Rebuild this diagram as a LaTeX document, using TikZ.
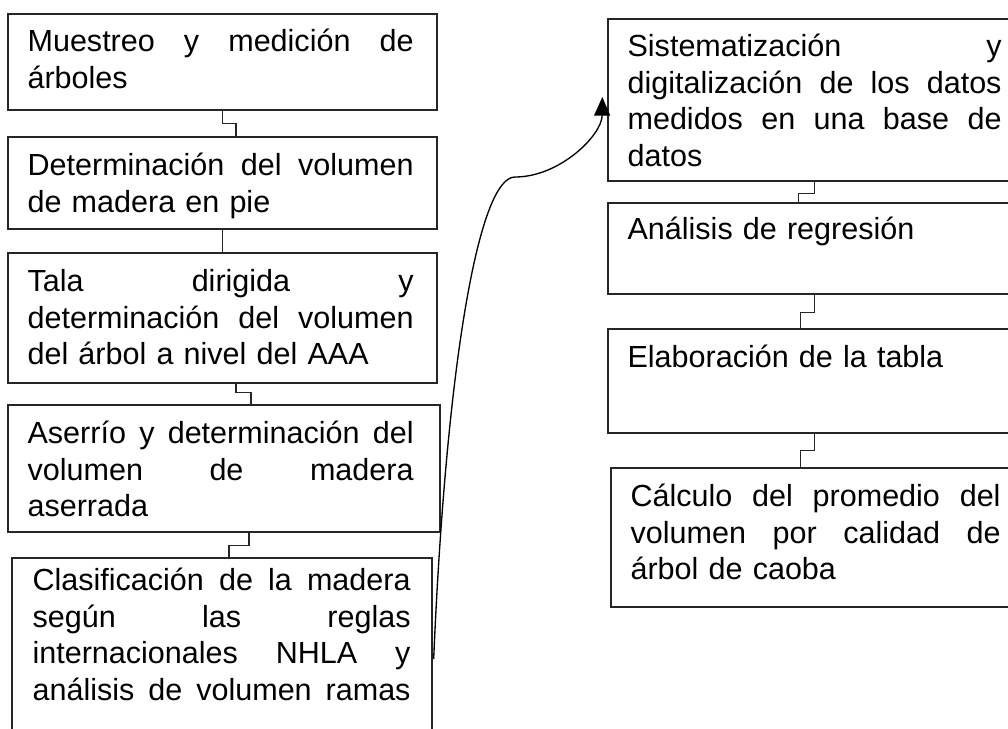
\documentclass[tikz,border=0pt]{standalone}
\usepackage{fontspec}
\setmainfont{Liberation Sans}
\usetikzlibrary{fit,calc,arrows.meta}
\newcommand\jl[2][289.5pt]{\makebox[#1][s]{\spaceskip=\fontdimen2\font plus 1fil\relax #2}}
\begin{document}
\begin{tikzpicture}[x=0.75pt,y=-0.75pt,
  box/.style={draw=black!85, line width=1pt, inner sep=0pt},
  txt/.style={inner sep=0pt, anchor=base west, align=left, font=\fontsize{22.9pt}{27.5pt}\selectfont},
  txtL/.style={txt, text width=289.5pt},
  txtC/.style={txt, text width=283.5pt},
  txtR/.style={txt, text width=280.5pt},
  conn/.style={draw=black!85, line width=0.9pt},
  flow/.style={draw=black, line width=1pt, -{Triangle[length=14pt,width=12pt]}}
  ]
\clip (0,0) rectangle (1008,729);
\fill[white] (0,0) rectangle (1008,729);
% left column boxes
\node[box, fit={(8,14) (437,110)}] (b1) {};
\node[box, fit={(8,137) (437,229)}] (b2) {};
\node[box, fit={(8,253) (437,383)}] (b3) {};
\node[box, fit={(8,405) (440,532)}] (b4) {};
\node[box, fit={(12,558) (432,760)}] (b5) {};
% right column boxes
\node[box, fit={(608,19) (1015,181)}] (r1) {};
\node[box, fit={(608,203) (1015,294)}] (r2) {};
\node[box, fit={(608,329) (1015,433)}] (r3) {};
\node[box, fit={(611,468) (1015,607)}] (r4) {};
% texts
\node[txtL] (t1) at ($(b1.north west)+(20,38)$) {\jl{Muestreo y medición de}\\árboles};
\node[txtL] (t2) at ($(b2.north west)+(20,39)$) {\jl{Determinación del volumen}\\de madera en pie};
\node[txtL] (t3) at ($(b3.north west)+(20,39)$) {\jl{Tala dirigida y}\\\jl{determinación del volumen}\\del árbol a nivel del AAA};
\node[txtL] (t4) at ($(b4.north west)+(20,39)$) {\jl{Aserrío y determinación del}\\\jl{volumen de madera}\\aserrada};
\node[txtC] (t5) at ($(b5.north west)+(21,33)$) {\jl[283.5pt]{Clasificación de la madera}\\\jl[283.5pt]{según las reglas}\\\jl[283.5pt]{internacionales NHLA y}\\\jl[283.5pt]{análisis de volumen ramas}};
\node[txtR] (u1) at ($(r1.north west)+(20,38)$) {\jl[280.5pt]{Sistematización y}\\\jl[280.5pt]{digitalización de los datos}\\\jl[280.5pt]{medidos en una base de}\\datos};
\node[txtR] (u2) at ($(r2.north west)+(20,37)$) {Análisis de regresión};
\node[txtR] (u3) at ($(r3.north west)+(20,39)$) {Elaboración de la tabla};
\node[txtR, text width=277.5pt] (u4) at ($(r4.north west)+(20,39)$) {\jl[277.5pt]{Cálculo del promedio del}\\\jl[277.5pt]{volumen por calidad de}\\árbol de caoba};
% left connectors
\draw[conn] (b1.south) -- ++(0,13) -| ($(b2.north)+(13.5,0)$);
\draw[conn] (b2.south) -- (b3.north);
\draw[conn] ($(b3.south)+(13.5,0)$) -- ++(0,9) -| ($(b4.north)+(27,0)$);
\draw[conn] ($(b4.south)+(25,0)$) -- ++(0,13) -| ($(b5.north)+(7,0)$);
% right connectors
\draw[conn] ($(r1.south west)+(207,0)$) -- ++(0,12) -| ($(r2.north west)+(191,0)$);
\draw[conn] ($(r2.south west)+(207,0)$) -- ++(0,18) -| ($(r3.north west)+(193,0)$);
\draw[conn] ($(r3.south west)+(207,0)$) -- ++(0,17) -| ($(r4.north west)+(190,0)$);
% long curved arrow
\coordinate (turn) at (515,177);
\draw[flow] ($(b5.east)+(1,0)$) .. controls (446,370) and (478,177) .. (turn)
  .. controls (560,177) and (602,135) .. ($(r1.west)+(-5,-3)$);
\end{tikzpicture}
\end{document}
